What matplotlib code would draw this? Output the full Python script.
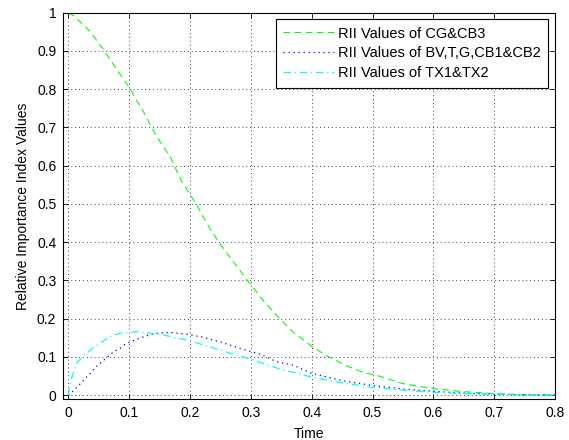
import numpy as np
import matplotlib.pyplot as plt

plt.rcParams['font.family'] = ['Liberation Sans', 'DejaVu Sans']

# values
t_cg = [0.0, 0.009, 0.036, 0.057, 0.08, 0.099, 0.123, 0.145, 0.167, 0.186, 0.21, 0.227, 0.246,
        0.266, 0.293, 0.321, 0.343, 0.37, 0.403, 0.43, 0.458, 0.485, 0.51, 0.55, 0.6, 0.65, 0.7, 0.75, 0.8]
rii_cg = [1.0, 0.992, 0.95, 0.905, 0.85, 0.807, 0.742, 0.676, 0.624, 0.559, 0.5, 0.45, 0.403,
          0.359, 0.303, 0.246, 0.207, 0.164, 0.124, 0.098, 0.076, 0.059, 0.05, 0.03, 0.017, 0.009, 0.004, 0.001, 0.0]

t_bv = [0.0, 0.003, 0.019, 0.029, 0.038, 0.046, 0.057, 0.074, 0.085, 0.093, 0.112, 0.14, 0.167,
        0.195, 0.222, 0.252, 0.282, 0.315, 0.343, 0.37, 0.4, 0.45, 0.5, 0.55, 0.6, 0.65, 0.7, 0.75, 0.8]
rii_bv = [0.0, 0.003, 0.029, 0.046, 0.061, 0.075, 0.09, 0.113, 0.122, 0.133, 0.146, 0.161, 0.164,
          0.159, 0.151, 0.138, 0.122, 0.107, 0.087, 0.078, 0.057, 0.038, 0.025, 0.016, 0.01, 0.005, 0.002, 0.001, 0.0]

t_tx = [0.0, 0.002, 0.008, 0.014, 0.025, 0.041, 0.068, 0.085, 0.112, 0.151, 0.2, 0.249, 0.299,
        0.348, 0.4, 0.45, 0.5, 0.55, 0.6, 0.65, 0.7, 0.75, 0.8]
rii_tx = [0.0, 0.025, 0.059, 0.085, 0.103, 0.124, 0.153, 0.162, 0.166, 0.159, 0.142, 0.118, 0.094,
          0.068, 0.047, 0.032, 0.02, 0.013, 0.007, 0.004, 0.002, 0.001, 0.0]

labels = ['RII Values of CG&CB3', 'RII Values of BV,T,G,CB1&CB2', 'RII Values of TX1&TX2']

W, H = 569, 440
fig = plt.figure(figsize=(W / 100, H / 100), dpi=100)
ax = fig.add_axes([63.3 / W, 1 - 399.3 / H, (555 - 63.3) / W, (399.3 - 12.7) / H])

ax.plot(t_cg, rii_cg, color=(0, 1, 0), linestyle=(0, (6, 4)), linewidth=0.8, label=labels[0])
ax.plot(t_bv, rii_bv, color=(0, 0, 1), linestyle=(0, (1, 3)), linewidth=0.9, label=labels[1])
ax.plot(t_tx, rii_tx, color=(0, 1, 1), linestyle=(0, (6, 3, 1, 3)), linewidth=0.9, label=labels[2])

ax.set_xlim(-0.0085, 0.8)
ax.set_ylim(-0.011, 1)
ax.set_xticks(np.arange(0, 0.81, 0.1))
ax.set_yticks(np.arange(0, 1.01, 0.1))
ax.set_xticklabels(['0', '0.1', '0.2', '0.3', '0.4', '0.5', '0.6', '0.7', '0.8'])
ax.set_yticklabels(['0', '0.1', '0.2', '0.3', '0.4', '0.5', '0.6', '0.7', '0.8', '0.9', '1'])
ax.tick_params(direction='in', top=True, right=True, labelsize=10, length=3.6, width=0.6, pad=5)
ax.grid(True, linestyle=(0, (1, 3)), color='#444444', linewidth=0.7)
for s in ax.spines.values():
    s.set_linewidth(0.8)

ax.set_xlabel('Time', fontsize=10, labelpad=5)
ax.set_ylabel('Relative Importance Index Values', fontsize=10, labelpad=5)

leg = ax.legend(loc='upper right', fontsize=10.5, frameon=True, fancybox=False,
                edgecolor='black', framealpha=1, borderpad=0.5, labelspacing=0.4,
                handlelength=3.5, handletextpad=0.3, borderaxespad=0.45)
leg.get_frame().set_linewidth(0.8)

fig.savefig('out.png', dpi=100)
